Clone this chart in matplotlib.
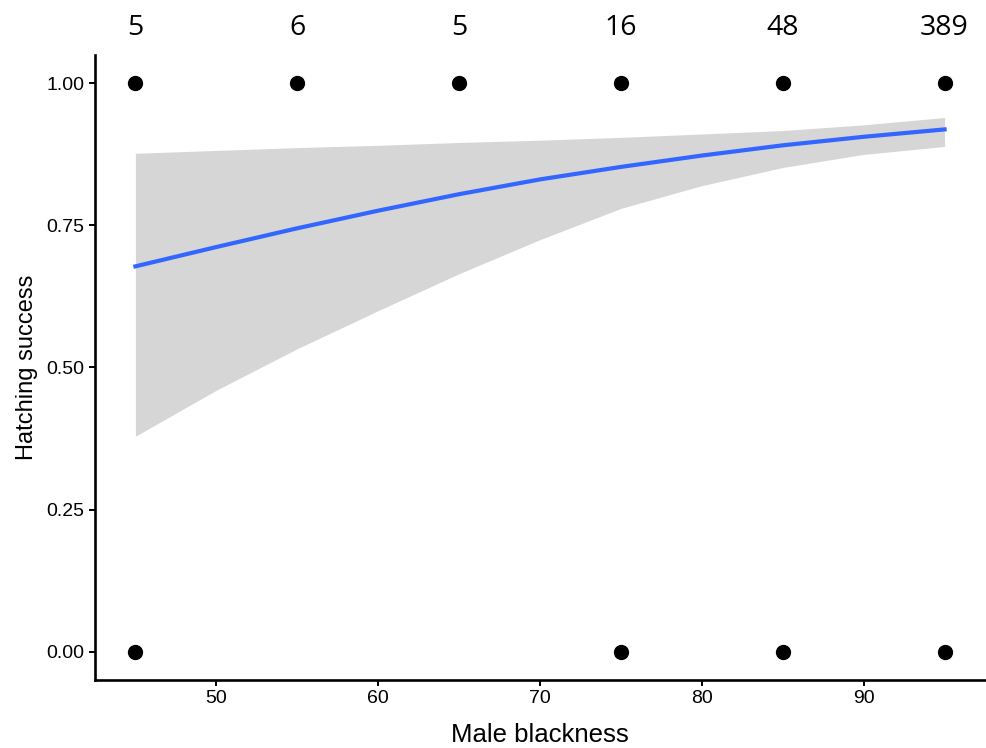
import matplotlib
matplotlib.use('Agg')
import matplotlib.pyplot as plt

# fitted curve and confidence band
fit_x = [45, 50, 55, 60, 65, 70, 75, 80, 85, 90, 95]
fit_y = [0.678, 0.712, 0.745, 0.776, 0.805, 0.831, 0.853, 0.873, 0.891, 0.906, 0.919]
ci_low = [0.379, 0.46, 0.533, 0.60, 0.665, 0.725, 0.78, 0.82, 0.852, 0.875, 0.889]
ci_high = [0.877, 0.882, 0.887, 0.891, 0.896, 0.900, 0.905, 0.911, 0.917, 0.927, 0.940]

# raw observations (overlapping points)
pts_x = [45, 55, 65, 75, 85, 95, 45, 75, 85, 95]
pts_y = [1, 1, 1, 1, 1, 1, 0, 0, 0, 0]

# sample sizes per blackness class
n_x = [45, 55, 65, 75, 85, 95]
n_labels = ['5', '6', '5', '16', '48', '389']

fig = plt.figure(figsize=(9.86, 7.48), dpi=100)
ax = fig.add_axes([0.0963, 0.0909, 0.9027, 0.8356])

ax.fill_between(fit_x, ci_low, ci_high, color='#d6d6d6', linewidth=0, zorder=1)
ax.plot(fit_x, fit_y, color='#3366ff', linewidth=3, zorder=2)
ax.scatter(pts_x, pts_y, s=100, color='black', zorder=3)

for x, lab in zip(n_x, n_labels):
    ax.text(x, 1.097, lab, ha='center', va='center', fontsize=20.5,
            family='Open Sans', clip_on=False)

ax.set_xlim(42.5, 97.5)
ax.set_ylim(-0.05, 1.05)
ax.set_xticks([50, 60, 70, 80, 90])
ax.set_yticks([0, 0.25, 0.5, 0.75, 1.0])
ax.set_yticklabels(['0.00', '0.25', '0.50', '0.75', '1.00'])

for s in ['top', 'right']:
    ax.spines[s].set_visible(False)
for s in ['left', 'bottom']:
    ax.spines[s].set_linewidth(1.9)

ax.tick_params(length=4.5, width=1.4, labelsize=14, pad=3)
for lab in ax.get_xticklabels() + ax.get_yticklabels():
    lab.set_family('Liberation Sans')

ax.set_xlabel('Male blackness', fontsize=18.5, family='Liberation Sans', labelpad=11)
ax.set_ylabel('Hatching success', fontsize=17, family='Liberation Sans', labelpad=6)

fig.savefig('out.png', dpi=100)
